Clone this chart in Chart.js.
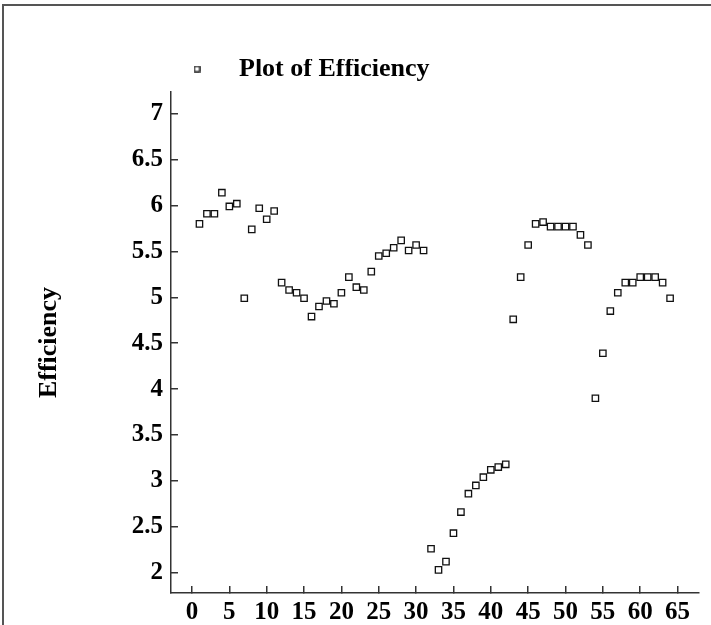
<!DOCTYPE html>
<html><head><meta charset="utf-8">
<script src="https://cdn.jsdelivr.net/npm/chart.js@4/dist/chart.umd.min.js"></script>
<style>
html,body{margin:0;padding:0;background:#fff;overflow:hidden;}
#wrap{position:relative;width:711px;height:625px;overflow:hidden;}
#frame{position:absolute;left:2px;top:4px;width:800px;height:800px;border-left:2px solid #555;border-top:2px solid #555;pointer-events:none;}
canvas{position:absolute;left:0;top:0;}
</style></head><body>
<div id="wrap"><canvas id="c" width="711" height="625"></canvas><div id="frame"></div></div>
<script>
const seriesName = 'Plot of Efficiency';
const axisTitleY = 'Efficiency';
const runIndex = [1,2,3,4,5,6,7,8,9,10,11,12,13,14,15,16,17,18,19,20,21,22,23,24,25,26,27,28,29,30,31,32,
  33,34,35,36,37,38,39,40,41,42,43,44,45,46,47,48,49,50,51,52,53,54,55,56,57,58,59,60,61,62,63,64];
const efficiency = [5.80,5.91,5.91,6.14,5.99,6.02,4.99,5.74,5.97,5.85,5.94,5.16,5.08,5.05,4.99,4.79,
  4.90,4.96,4.93,5.05,5.22,5.11,5.08,5.28,5.45,5.48,5.54,5.62,5.51,5.57,5.51,2.26,2.03,2.12,2.43,2.66,
  2.86,2.95,3.04,3.12,3.15,3.18,4.76,5.22,5.57,5.80,5.82,5.77,5.77,5.77,5.77,5.68,5.57,3.90,4.39,4.85,
  5.05,5.16,5.16,5.22,5.22,5.22,5.16,4.99];
const xTickValues = [0,5,10,15,20,25,30,35,40,45,50,55,60,65];
const yTickValues = [2,2.5,3,3.5,4,4.5,5,5.5,6,6.5,7];
const yTickLabels = ['2','2.5','3','3.5','4','4.5','5','5.5','6','6.5','7'];

const serif = '"Liberation Serif", "Times New Roman", serif';
const axisColor = '#333';

// legend marker image (small open square)
const marker = document.createElement('canvas');
marker.width = 7; marker.height = 7;
(function(){
  const g = marker.getContext('2d');
  g.fillStyle = '#fff'; g.fillRect(0,0,7,7);
  g.strokeStyle = '#111'; g.lineWidth = 1.3;
  g.strokeRect(0.9,0.9,5.2,5.2);
})();

new Chart(document.getElementById('c'), {
  type: 'scatter',
  data: {
    datasets: [{
      label: seriesName,
      data: runIndex.map((x, i) => ({x: x, y: efficiency[i]})),
      pointStyle: 'rect',
      pointRadius: 4.5,
      pointBorderWidth: 1.3,
      borderColor: '#111',
      backgroundColor: '#fff',
      showLine: false
    }]
  },
  options: {
    responsive: false,
    animation: false,
    devicePixelRatio: 1,
    layout: {padding: {left: 0, right: 12, top: 59, bottom: 0}},
    plugins: {
      legend: {
        display: true, position: 'top', align: 'start', fullSize: false,
        labels: {
          usePointStyle: true, pointStyle: marker, pointStyleWidth: 58, padding: -3,
          color: '#000', font: {family: serif, size: 26, weight: 'bold'}
        }
      },
      tooltip: {enabled: false}
    },
    scales: {
      x: {
        type: 'linear', min: -2.81, max: 67.87,
        afterBuildTicks: s => { s.ticks = xTickValues.map(v => ({value: v})); },
        afterFit: s => { s.height = 32; },
        grid: {drawOnChartArea: false, drawTicks: true, tickLength: -7, color: axisColor, lineWidth: 1.5},
        border: {display: true, color: axisColor, width: 1.5},
        ticks: {padding: 12, color: '#000', autoSkip: false, maxRotation: 0,
          font: {family: serif, size: 25, weight: 'bold'},
          callback: v => String(v)}
      },
      y: {
        type: 'linear', min: 1.778, max: 7.237,
        afterBuildTicks: s => { s.ticks = yTickValues.map(v => ({value: v})); },
        afterFit: s => { s.width = 171; },
        grid: {drawOnChartArea: false, drawTicks: true, tickLength: -7, color: axisColor, lineWidth: 1.5},
        border: {display: true, color: axisColor, width: 1.5},
        ticks: {padding: 15, color: '#000', autoSkip: false,
          font: {family: serif, size: 25, weight: 'bold'},
          callback: v => yTickLabels[yTickValues.indexOf(v)]},
        title: {display: true, text: axisTitleY, color: '#000', padding: {top: 34, bottom: 0},
          font: {family: serif, size: 26, weight: 'bold'}}
      }
    }
  }
});
</script>
</body></html>
